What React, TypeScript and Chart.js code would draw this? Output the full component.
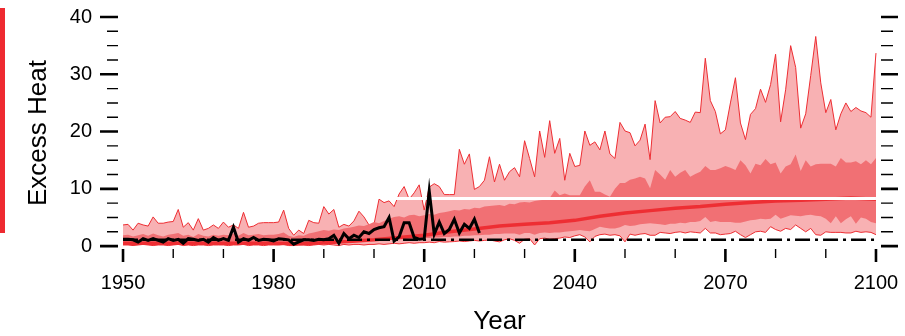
import React, { useEffect, useRef } from 'react';
import { Chart, registerables } from 'chart.js';

Chart.register(...registerables);

const FONT = "'Liberation Sans', Arial, Helvetica, sans-serif";

// model years 1950..2100
const modelStart = 1950;
const modelEnd = 2100;
const modelYears = Array.from({ length: modelEnd - modelStart + 1 }, (_, i) => modelStart + i);

// ensemble maximum (upper envelope)
const upperEnvelope = [
  3.7, 3.8, 2.8, 4.0, 3.7, 3.5, 5.1, 4.0, 4.0, 4.2,
  4.3, 6.4, 3.3, 4.1, 2.8, 4.8, 2.8, 3.1, 3.7, 3.1,
  4.2, 3.3, 3.7, 3.1, 5.9, 3.3, 3.5, 4.0, 4.1, 4.1,
  4.1, 4.2, 6.3, 3.1, 1.9, 2.8, 2.2, 4.5, 4.1, 4.0,
  6.9, 5.6, 6.4, 3.3, 3.8, 3.5, 4.4, 6.1, 5.1, 3.7,
  3.8, 8.2, 7.6, 7.9, 6.9, 9.1, 10.4, 8.2, 9.3, 10.7,
  6.3, 10.3, 10.9, 10.4, 9.0, 9.0, 9.0, 16.9, 14.3, 16.1,
  9.9, 10.4, 11.5, 15.6, 11.2, 14.3, 11.5, 13.0, 13.7, 12.1,
  18.4, 15.3, 12.1, 20.1, 15.5, 21.9, 16.2, 18.8, 11.5, 16.2,
  13.9, 14.1, 20.1, 17.6, 18.2, 16.8, 20.1, 16.1, 15.3, 21.6,
  20.1, 19.8, 17.5, 18.5, 21.3, 15.1, 25.4, 21.5, 22.5, 22.6,
  23.5, 22.3, 22.0, 21.6, 23.4, 23.3, 32.8, 25.4, 23.5, 19.6,
  20.3, 25.0, 29.4, 21.5, 18.6, 23.0, 24.0, 27.4, 25.1, 28.2,
  33.5, 21.7, 27.3, 35.0, 31.2, 20.6, 23.1, 29.8, 36.6, 28.5,
  23.3, 25.6, 20.3, 23.1, 25.0, 23.5, 24.2, 23.6, 23.3, 22.5,
  33.7,
];

// ensemble minimum (lower envelope)
const lowerEnvelope = [
  0.2, 0.2, 0.1, 0.2, 0.3, 0.2, 0.1, 0.2, 0.2, 0.1,
  0.2, 0.3, 0.1, 0.2, 0.1, 0.2, 0.2, 0.1, 0.2, 0.2,
  0.2, 0.1, 0.2, 0.2, 0.3, 0.1, 0.2, 0.2, 0.1, 0.2,
  0.2, 0.2, 0.3, 0.1, 0.1, 0.2, 0.2, 0.1, 0.2, 0.3,
  0.2, 0.3, 0.2, 0.1, 0.3, 0.2, 0.3, 0.3, 0.2, 0.3,
  0.3, 0.4, 0.3, 0.4, 0.5, 0.4, 0.5, 0.6, 0.5, 0.6,
  0.6, 0.7, 0.6, 0.8, 0.7, 0.75, 0.8, 0.9, 0.8, 0.9,
  1.0, 0.9, 1.0, 1.1, 0.9, 0.75, 1.1, 1.3, 1.0, 0.5,
  1.2, 1.3, 0.2, 1.3, 1.4, 1.2, 1.3, 1.4, 1.6, 1.5,
  1.8, 2.0, 1.6, 0.75, 1.7, 2.0, 2.1, 1.9, 2.0, 1.8,
  0.75, 2.1, 1.9, 2.1, 2.2, 1.9, 1.9, 2.4, 2.3, 2.2,
  2.4, 2.5, 2.3, 2.5, 2.4, 2.3, 3.1, 2.3, 2.3, 2.0,
  2.1, 2.2, 2.6, 2.0, 1.5, 2.0, 2.5, 2.6, 2.4, 3.4,
  2.9, 2.6, 3.1, 2.9, 3.7, 3.1, 2.5, 3.1, 2.0, 1.9,
  2.5, 2.4, 2.4, 2.4, 2.3, 2.3, 2.6, 2.4, 2.5, 2.4,
  2.0,
];

// inner range, upper bound
const innerHigh = [
  1.9, 2.0, 1.7, 1.9, 2.1, 1.8, 2.2, 1.9, 1.7, 2.0,
  2.1, 2.3, 1.8, 2.0, 1.6, 2.1, 1.8, 1.7, 2.0, 1.8,
  2.0, 1.9, 2.2, 1.8, 2.3, 1.9, 2.0, 2.1, 1.9, 2.0,
  2.0, 2.1, 2.4, 1.8, 1.6, 1.9, 1.8, 2.2, 2.4, 2.6,
  2.8, 2.7, 2.9, 2.8, 3.1, 3.2, 3.4, 3.6, 3.5, 3.8,
  4.2, 4.0, 4.4, 4.8, 5.1, 5.2, 5.0, 5.4, 5.5, 5.2,
  5.4, 5.6, 5.5, 5.8, 5.9, 6.1, 6.3, 6.2, 6.5, 6.4,
  6.7, 6.6, 6.9, 7.0, 7.1, 7.2, 7.0, 7.4, 7.3, 7.6,
  7.7, 7.6, 7.9, 8.0, 8.1, 8.4, 9.7, 8.9, 9.2, 8.9,
  8.9, 8.9, 10.4, 11.5, 9.5, 9.5, 9.0, 8.6, 10.0, 11.0,
  11.0, 11.6, 11.8, 12.1, 11.8, 10.1, 13.3, 12.5, 11.6, 13.3,
  12.1, 12.8, 13.3, 12.1, 12.6, 13.0, 14.0, 13.3, 13.3, 13.6,
  14.0, 13.7, 13.3, 15.0, 14.1, 12.7, 14.4, 14.1, 15.2, 14.3,
  14.6, 12.7, 13.9, 14.3, 16.0, 13.1, 15.0, 13.9, 14.3, 14.4,
  14.4, 14.4, 13.9, 15.4, 14.6, 14.6, 14.8, 14.3, 15.0, 14.3,
  15.4,
];

// inner range, lower bound
const innerLow = [
  0.5, 0.6, 0.4, 0.5, 0.6, 0.5, 0.5, 0.6, 0.4, 0.5,
  0.5, 0.6, 0.4, 0.5, 0.4, 0.5, 0.5, 0.4, 0.6, 0.5,
  0.5, 0.4, 0.6, 0.5, 0.6, 0.4, 0.5, 0.5, 0.4, 0.5,
  0.5, 0.6, 0.5, 0.4, 0.4, 0.5, 0.6, 0.5, 0.5, 0.6,
  0.6, 0.7, 0.6, 0.5, 0.7, 0.7, 0.8, 0.8, 0.8, 0.9,
  0.9, 1.0, 1.0, 1.1, 1.1, 1.2, 1.2, 1.3, 1.3, 1.3,
  1.4, 1.4, 1.5, 1.5, 1.6, 1.6, 1.7, 1.7, 1.8, 1.8,
  1.9, 1.9, 2.0, 2.0, 2.1, 2.1, 2.2, 2.2, 2.2, 2.0,
  2.3, 2.3, 2.0, 2.3, 2.4, 2.3, 2.4, 2.4, 2.5, 2.6,
  2.7, 2.8, 2.7, 2.6, 3.0, 3.4, 3.2, 3.1, 3.1, 3.3,
  3.7, 3.5, 3.6, 3.8, 3.9, 4.0, 3.9, 3.8, 3.7, 3.9,
  3.9, 4.1, 4.0, 4.2, 4.2, 4.4, 5.1, 4.2, 4.4, 4.2,
  4.2, 4.2, 4.1, 4.1, 4.3, 4.5, 4.6, 4.8, 4.7, 4.8,
  5.5, 4.8, 5.1, 5.4, 5.3, 5.2, 5.4, 5.5, 5.3, 5.2,
  4.8, 4.0, 5.2, 4.0, 4.7, 5.2, 3.9, 5.0, 4.8, 4.2,
  4.0,
];

// ensemble median (read every 5 years)
const medianYears = [
  1950, 1955, 1960, 1965, 1970, 1975, 1980, 1985, 1990, 1995, 2000,
  2005, 2010, 2015, 2020, 2025, 2030, 2035, 2040, 2045, 2050,
  2055, 2060, 2065, 2070, 2075, 2080, 2085, 2090, 2095, 2100,
];
const medianValues = [
  0.5, 0.5, 0.5, 0.5, 0.5, 0.5, 0.5, 0.4, 0.6, 0.8, 1.1,
  1.5, 1.9, 2.5, 3.0, 3.5, 3.8, 4.1, 4.5, 5.2, 5.8,
  6.2, 6.6, 6.9, 7.3, 7.6, 7.9, 8.0, 8.2, 8.4, 8.2,
];

// observations 1950..2021
const obsStart = 1950;
const obsValues = [
  1.2, 1.2, 1.1, 0.7, 1.3, 1.0, 1.3, 1.0, 0.7, 1.3,
  1.0, 1.2, 0.5, 1.3, 1.2, 1.0, 1.2, 0.7, 1.5, 1.0,
  1.3, 1.0, 3.3, 0.7, 1.3, 1.0, 1.5, 1.0, 1.2, 1.1,
  0.9, 1.3, 1.2, 1.1, 0.35, 0.75, 1.1, 1.1, 1.0, 1.2,
  1.1, 1.3, 1.9, 0.5, 2.2, 1.3, 1.9, 1.5, 2.5, 2.2,
  2.9, 3.2, 3.4, 5.0, 0.9, 1.6, 4.1, 4.1, 1.5, 1.2,
  1.3, 9.6, 2.1, 4.2, 2.2, 2.9, 4.7, 2.3, 3.8, 3.1,
  4.7, 2.3,
];

// reference levels
const thresholdYears = [2004, 2100];
const thresholdValue = 8.3;
const baselineYears = [1950, 2100];
const baselineValue = 1.1;

// axes
const xMin = 1949;
const xMax = 2101;
const xMajorTicks = [1950, 1980, 2010, 2040, 2070, 2100];
const xMinorStep = 10;
const yMin = -0.5;
const yMax = 40;
const yMajorTicks = [0, 10, 20, 30, 40];
const yMinorStep = 2.5;

const LIGHT = '#F8B1B3';
const DARK = '#F17074';
const RED = '#EE2E33';

const pts = (xs: number[], ys: number[]) => xs.map((x, i) => ({ x, y: ys[i] }));

const decorPlugin = {
  id: 'decor',
  beforeDraw(chart: any) {
    const ctx = chart.ctx;
    ctx.save();
    ctx.fillStyle = '#ffffff';
    ctx.fillRect(0, 0, chart.width, chart.height);
    ctx.fillStyle = '#EE2A30';
    ctx.fillRect(0, 8, 5, 225);
    ctx.restore();
  },
  afterDraw(chart: any) {
    const { ctx, chartArea } = chart;
    const { left, right, bottom } = chartArea;
    const xs = chart.scales.x;
    const ys = chart.scales.y;
    ctx.save();
    ctx.strokeStyle = '#000';
    ctx.lineCap = 'butt';
    for (let v = yMajorTicks[0]; v <= yMajorTicks[yMajorTicks.length - 1] + 1e-6; v += yMinorStep) {
      const major = yMajorTicks.includes(v);
      const py = ys.getPixelForValue(v);
      ctx.lineWidth = major ? 2.6 : 1.4;
      ctx.beginPath();
      ctx.moveTo(left - (major ? 18 : 11), py);
      ctx.lineTo(left, py);
      ctx.moveTo(right, py);
      ctx.lineTo(right + (major ? 17 : 12), py);
      ctx.stroke();
    }
    for (let yr = xMajorTicks[0]; yr <= xMajorTicks[xMajorTicks.length - 1]; yr += xMinorStep) {
      const major = xMajorTicks.includes(yr);
      const px = xs.getPixelForValue(yr);
      ctx.lineWidth = major ? 2.6 : 1.4;
      ctx.beginPath();
      ctx.moveTo(px, bottom);
      ctx.lineTo(px, bottom + (major ? 13 : 9));
      ctx.stroke();
    }
    ctx.restore();
  },
};

export default function App() {
  const ref = useRef<HTMLCanvasElement>(null);

  useEffect(() => {
    const canvas = ref.current;
    if (!canvas) return;
    const chart = new Chart(canvas, {
      type: 'line',
      data: {
        datasets: [
          {
            label: 'max',
            data: pts(modelYears, upperEnvelope),
            borderColor: RED,
            borderWidth: 1,
            backgroundColor: LIGHT,
            fill: 1,
            pointRadius: 0,
            order: 7,
          },
          {
            label: 'min',
            data: pts(modelYears, lowerEnvelope),
            borderColor: RED,
            borderWidth: 1,
            fill: false,
            pointRadius: 0,
            order: 6,
          },
          {
            label: 'inner high',
            data: pts(modelYears, innerHigh),
            borderWidth: 0,
            borderColor: 'rgba(0,0,0,0)',
            backgroundColor: DARK,
            fill: 3,
            pointRadius: 0,
            order: 5,
          },
          {
            label: 'inner low',
            data: pts(modelYears, innerLow),
            borderWidth: 0,
            borderColor: 'rgba(0,0,0,0)',
            fill: false,
            pointRadius: 0,
            order: 4,
          },
          {
            label: 'median',
            data: pts(medianYears, medianValues),
            borderColor: RED,
            borderWidth: 3.5,
            fill: false,
            pointRadius: 0,
            order: 3,
          },
          {
            label: 'threshold',
            data: thresholdYears.map((x) => ({ x, y: thresholdValue })),
            borderColor: '#ffffff',
            borderWidth: 3,
            fill: false,
            pointRadius: 0,
            order: 2,
          },
          {
            label: 'baseline',
            data: baselineYears.map((x) => ({ x, y: baselineValue })),
            borderColor: '#000000',
            borderWidth: 2.5,
            borderDash: [15, 5, 3, 5],
            fill: false,
            pointRadius: 0,
            order: 1,
          },
          {
            label: 'observed',
            data: obsValues.map((y, i) => ({ x: obsStart + i, y })),
            borderColor: '#000000',
            borderWidth: 3,
            fill: false,
            pointRadius: 0,
            order: 0,
          },
        ],
      },
      options: {
        responsive: false,
        maintainAspectRatio: false,
        devicePixelRatio: 1,
        animation: false,
        events: [],
        layout: { padding: { top: 17, right: 24, bottom: 0, left: 0 } },
        elements: { line: { tension: 0 } },
        plugins: { legend: { display: false }, tooltip: { enabled: false } },
        scales: {
          x: {
            type: 'linear',
            min: xMin,
            max: xMax,
            afterBuildTicks: (s: any) => {
              s.ticks = xMajorTicks.map((value) => ({ value }));
            },
            afterFit: (s: any) => {
              s.height = 87;
              s.paddingLeft = 0;
              s.paddingRight = 0;
              s.paddingTop = 0;
              s.paddingBottom = 0;
            },
            ticks: {
              autoSkip: false,
              maxRotation: 0,
              padding: 22,
              color: '#000',
              font: { family: FONT, size: 20 },
              callback: (v: any) => String(v),
            },
            grid: { display: false, drawTicks: false },
            border: { display: false },
            title: {
              display: true,
              text: 'Year',
              color: '#000',
              font: { family: FONT, size: 26 },
              padding: { top: 0, bottom: -1 },
            },
          },
          y: {
            type: 'linear',
            min: yMin,
            max: yMax,
            afterBuildTicks: (s: any) => {
              s.ticks = yMajorTicks.map((value) => ({ value }));
            },
            afterFit: (s: any) => {
              s.width = 118;
              s.paddingLeft = 0;
              s.paddingRight = 0;
              s.paddingTop = 0;
              s.paddingBottom = 0;
            },
            ticks: {
              padding: 26,
              color: '#000',
              font: { family: FONT, size: 20 },
              callback: (v: any) => String(v),
            },
            grid: { display: false, drawTicks: false },
            border: { display: false },
            title: {
              display: true,
              text: 'Excess Heat',
              color: '#000',
              font: { family: FONT, size: 26 },
              padding: { top: 23, bottom: 0 },
            },
          },
        },
      },
      plugins: [decorPlugin],
    } as any);
    return () => chart.destroy();
  }, []);

  return (
    <div style={{ position: 'fixed', left: 0, top: 0, width: 905, height: 336, background: '#fff' }}>
      <canvas ref={ref} width={905} height={336} style={{ display: 'block', width: 905, height: 336 }} />
    </div>
  );
}
